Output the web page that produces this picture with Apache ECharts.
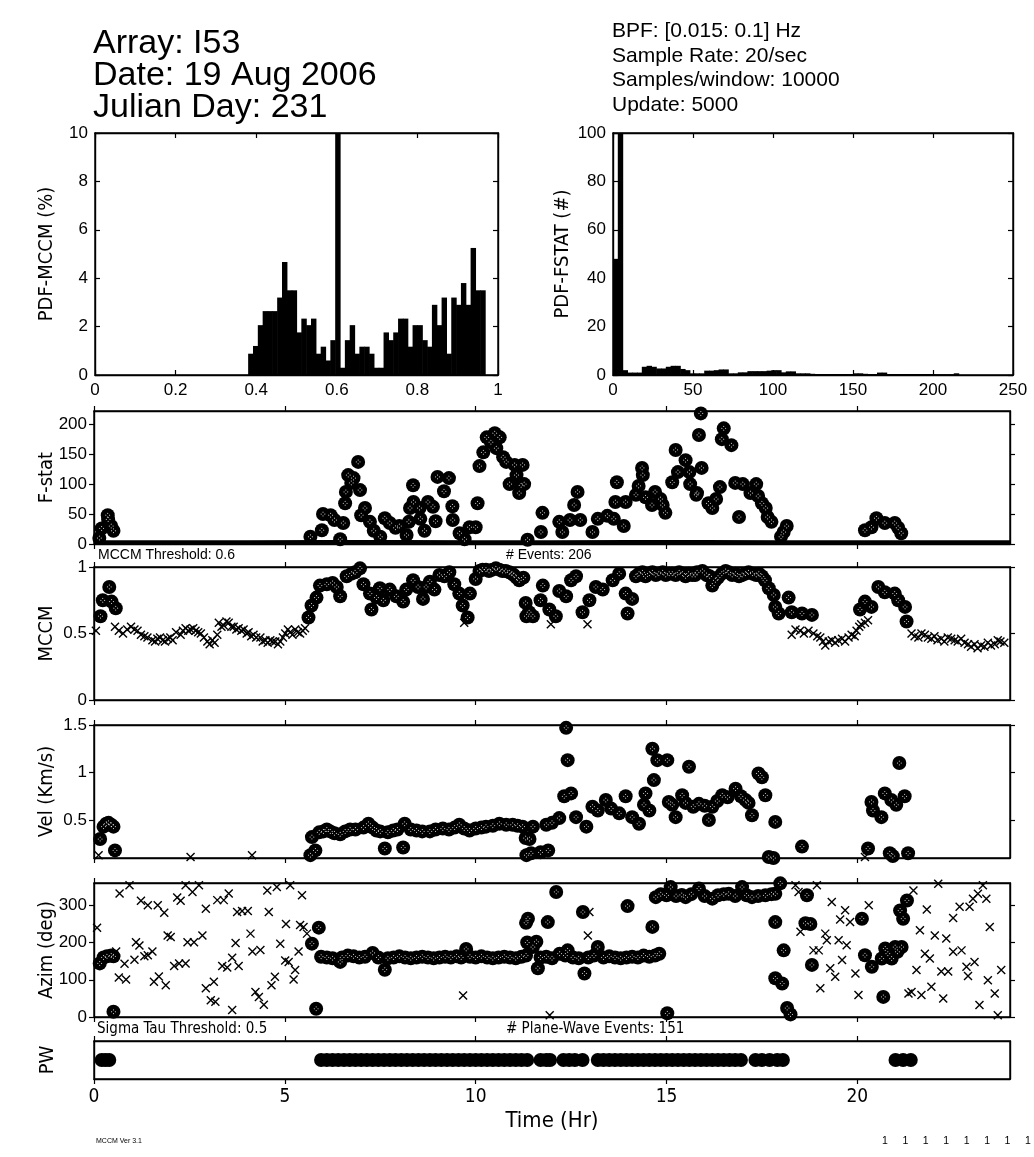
<!DOCTYPE html>
<html><head><meta charset="utf-8">
<script src="https://cdn.jsdelivr.net/npm/echarts@6/dist/echarts.min.js"></script>
<style>html,body{margin:0;padding:0;background:#fff}#c{width:1034px;height:1157px}</style>
</head><body><div id="c"></div>
<script>
// ---------------- DATA ----------------
// PDF of MCCM: bins start at 0.38, width 0.012 (%)
const mccmBinStart = 0.38, mccmBinWidth = 0.012;
const mccmPdf = [0.88,1.2,2.06,2.64,2.64,2.64,3.2,4.67,3.5,3.5,1.76,2.33,2.06,2.33,0.88,1.17,0.6,1.44,10,0.3,
  1.44,2.06,0.88,1.17,1.17,0.88,0.3,0.3,1.76,1.44,1.76,2.33,2.33,1.17,2.06,2.06,1.44,1.17,2.9,2.06,
  3.2,0.88,3.2,2.9,3.8,2.9,5.25,3.5,3.5];
// PDF of F-stat: bins start at 0, width 3 (#)
const fstatBinStart = 0, fstatBinWidth = 3;
const fstatPdf = [48,100,2,1,1,1,3.4,3.8,3.4,2.7,2.7,3.4,3.8,3.8,2.5,2,0.7,0.7,0.7,1.8,1.8,2,2.3,2.3,0.7,0.7,
  1.1,1.1,1.6,1.6,1.6,1.6,1.8,2,2,1.1,1.5,1.5,0.7,0.7,0.7,0.5,0.4,0.4,0.4,0.4,0.4,0.4,0.4,0.4,0.7,0.7,0.5,
  0.4,0.4,1,1,0.4,0.4,0.4,0.4,0.4,0.4,0.4,0.4,0.4,0.4,0.3,0.3,0.3,0.3,0.7];

// F-stat: low-value baseline (all windows) and detections [time hr, F]
const fstatBaseline = [[0,3],[2,3],[4,3],[6,3.5],[8,3.5],[10,3],[12,3],[14,3.5],[16,3.5],[18,3],[20,3],[22,3],[24,3]];
const fstatEvents = [[0.14,10],[0.2,26],[0.36,48],[0.37,41],[0.51,22],[0.45,30],
 [5.67,12],[5.97,23],[6.0,50],[6.2,48],[6.3,40],[6.53,35],[6.45,8],[6.58,68],[6.6,87],[6.66,115],[6.74,102],[6.97,90],[6.92,137],[6.8,110],
 [7.1,60],[7.0,48],[7.23,37],[7.33,22],[7.5,12],[7.62,43],[7.75,35],[7.9,27],[8.0,30],[8.19,15],[8.25,37],[8.36,98],[8.28,60],[8.37,70],
 [8.53,60],[8.55,42],[8.66,22],[8.75,70],[8.88,62],[8.95,38],[9.0,112],[9.17,88],[9.3,110],[9.39,63],[9.4,40],[9.58,18],[9.71,8],[9.84,28],
 [10.0,28],[10.05,68],[10.1,130],[10.2,153],[10.29,178],[10.5,185],[10.4,170],[10.54,160],[10.63,178],[10.72,145],[10.8,137],[10.89,100],
 [11.02,132],[11.07,115],[11.19,98],[11.14,85],[11.23,132],[11.27,100],[11.36,7],[11.71,20],[11.75,52],[12.19,37],[12.27,20],[12.47,40],
 [12.58,65],[12.67,87],[12.74,40],[13.06,20],[13.2,42],[13.45,47],[13.62,42],[13.88,30],[13.7,103],[13.66,70],[13.93,70],[14.2,82],
 [14.36,127],[14.38,115],[14.27,97],[14.45,78],[14.62,65],[14.7,87],[14.9,65],[14.97,52],[14.84,75],[15.15,103],[15.3,120],[15.24,157],
 [15.5,140],[15.6,120],[15.62,100],[15.8,85],[15.85,182],[15.9,218],[15.92,127],[15.78,82],[16.1,68],[16.2,60],[16.3,75],[16.4,95],
 [16.5,193],[16.45,175],[16.7,165],[16.8,102],[16.9,45],[17.0,100],[17.2,85],[17.35,100],[17.4,80],[17.5,68],[17.6,60],[17.65,45],
 [17.75,37],[18.07,20],[18.0,12],[18.15,30],[20.2,23],[20.37,28],[20.5,43],[20.72,35],[20.98,35],[21.15,18],[21.07,27]];

// MCCM: below-threshold windows (x) and detections (circles)
const mccmOther = [[0.05,0.52],[0.55,0.55],[0.65,0.52],[0.76,0.5],[0.87,0.53],[0.97,0.55],[1.06,0.53],[1.14,0.52],[1.23,0.49],[1.32,0.48],
 [1.4,0.47],[1.53,0.45],[1.6,0.44],[1.66,0.46],[1.73,0.47],[1.8,0.45],[1.86,0.44],[1.93,0.46],[2.0,0.47],[2.06,0.45],[2.15,0.51],[2.27,0.49],
 [2.33,0.52],[2.4,0.54],[2.47,0.52],[2.53,0.53],[2.6,0.54],[2.66,0.52],[2.73,0.51],[2.8,0.5],[2.88,0.47],[2.97,0.44],[3.03,0.42],[3.1,0.45],
 [3.16,0.43],[3.23,0.49],[3.27,0.58],[3.34,0.55],[3.4,0.56],[3.47,0.59],[3.53,0.58],[3.6,0.55],[3.66,0.55],[3.73,0.53],[3.79,0.54],[3.86,0.52],
 [3.92,0.53],[4.0,0.5],[4.05,0.51],[4.12,0.48],[4.18,0.49],[4.25,0.47],[4.36,0.47],[4.42,0.44],[4.49,0.45],[4.55,0.43],[4.62,0.45],[4.68,0.44],
 [4.75,0.44],[4.82,0.42],[4.88,0.44],[4.95,0.47],[5.01,0.5],[5.08,0.53],[5.14,0.51],[5.2,0.49],[5.27,0.53],[5.34,0.51],[5.4,0.5],[5.47,0.52],[5.53,0.54],
 [9.7,0.58],[11.97,0.57],[12.93,0.57],
 [18.28,0.49],[18.38,0.53],[18.5,0.52],[18.6,0.5],[18.72,0.52],[18.85,0.5],[18.95,0.48],[19.03,0.47],[19.1,0.44],[19.16,0.41],[19.25,0.44],
 [19.33,0.45],[19.42,0.43],[19.5,0.45],[19.6,0.46],[19.68,0.44],[19.77,0.47],[19.85,0.49],[19.93,0.48],[19.98,0.52],[20.05,0.55],[20.1,0.57],
 [20.2,0.58],[20.28,0.6],
 [21.42,0.5],[21.5,0.48],[21.6,0.47],[21.68,0.5],[21.77,0.49],[21.85,0.47],[21.94,0.46],[22.02,0.48],[22.1,0.45],[22.2,0.46],[22.28,0.44],
 [22.37,0.47],[22.46,0.46],[22.55,0.45],[22.63,0.44],[22.72,0.46],[22.81,0.43],[22.9,0.42],[22.98,0.4],[23.07,0.42],[23.15,0.39],[23.24,0.41],
 [23.33,0.4],[23.42,0.43],[23.5,0.41],[23.6,0.42],[23.68,0.45],[23.75,0.44],[23.85,0.43]];
const mccmEvents = [[0.17,0.63],[0.23,0.75],[0.4,0.85],[0.46,0.74],[0.57,0.69],
 [5.62,0.62],[5.7,0.71],[5.83,0.77],[5.92,0.86],[6.1,0.87],[6.25,0.88],[6.36,0.85],[6.45,0.78],[6.62,0.93],[6.75,0.95],[6.84,0.96],[6.97,0.99],[7.06,0.87],[7.23,0.8],
 [7.27,0.68],[7.4,0.77],[7.49,0.84],[7.58,0.75],[7.75,0.83],[7.92,0.78],[8.1,0.74],[8.18,0.83],[8.36,0.9],[8.49,0.85],[8.62,0.76],[8.7,0.85],
 [8.8,0.89],[8.92,0.83],[9.05,0.94],[9.18,0.93],[9.31,0.96],[9.44,0.87],[9.57,0.8],[9.66,0.71],[9.79,0.62],[9.85,0.8],[10.0,0.91],[10.1,0.97],[10.18,0.98],
 [10.27,0.98],[10.35,0.97],[10.44,0.98],[10.53,0.99],[10.62,0.98],[10.7,0.97],[10.79,0.97],[10.88,0.96],[10.95,0.95],[11.0,0.94],[11.07,0.92],[11.14,0.9],[11.25,0.92],[11.31,0.73],[11.33,0.63],
 [11.4,0.66],[11.5,0.63],[11.7,0.75],[11.76,0.86],[11.93,0.68],[12.1,0.63],[12.19,0.82],[12.37,0.78],[12.5,0.9],[12.63,0.93],[12.8,0.66],
 [12.98,0.75],[13.15,0.85],[13.33,0.83],[13.59,0.9],[13.76,0.95],[13.93,0.8],[13.98,0.65],[14.1,0.76],[14.2,0.93],[14.28,0.95],[14.37,0.96],[14.45,0.93],
 [14.55,0.95],[14.63,0.96],[14.72,0.94],[14.8,0.95],[14.9,0.96],[14.98,0.94],[15.07,0.95],[15.15,0.95],[15.24,0.94],[15.33,0.96],[15.42,0.95],
 [15.5,0.93],[15.58,0.95],[15.67,0.94],[15.75,0.94],[15.8,0.96],[15.94,0.97],[16.05,0.94],[16.13,0.93],[16.2,0.86],[16.28,0.9],[16.35,0.92],
 [16.45,0.95],[16.55,0.97],[16.63,0.96],[16.72,0.94],[16.81,0.95],[16.9,0.93],[16.98,0.94],[17.07,0.95],[17.15,0.96],[17.25,0.95],[17.35,0.94],
 [17.42,0.95],[17.5,0.93],[17.58,0.9],[17.68,0.84],[17.81,0.79],[17.85,0.7],[17.94,0.65],
 [18.2,0.77],[18.28,0.66],[18.55,0.65],[18.81,0.64],
 [20.07,0.68],[20.2,0.74],[20.37,0.7],[20.55,0.85],[20.72,0.81],[20.98,0.8],[21.07,0.75],[21.25,0.7],[21.29,0.59]];

// Velocity (km/s)
const velOther = [[0.12,0.13],[2.53,0.11],[4.14,0.13],[20.2,0.11]];
const velEvents = [[0.16,0.3],[0.25,0.43],[0.32,0.46],[0.38,0.47],[0.45,0.45],[0.51,0.43],[0.55,0.18],
 [5.67,0.13],[5.8,0.18],[5.71,0.32],[5.9,0.37],[6.01,0.38],[6.1,0.4],[6.19,0.38],[6.3,0.36],[6.45,0.35],[6.58,0.38],[6.71,0.4],[6.85,0.4],
 [7.06,0.42],[7.19,0.46],[7.3,0.42],[7.4,0.39],[7.5,0.38],[7.62,0.2],[7.7,0.37],[7.84,0.39],[7.95,0.4],[8.1,0.21],[8.14,0.46],[8.3,0.4],
 [8.45,0.39],[8.6,0.38],[8.8,0.38],[8.95,0.4],[9.14,0.41],[9.3,0.4],[9.45,0.42],[9.57,0.45],[9.7,0.41],[9.84,0.39],[10.0,0.41],[10.15,0.42],
 [10.27,0.43],[10.45,0.44],[10.62,0.46],[10.8,0.45],[10.97,0.45],[11.1,0.44],[11.23,0.43],[11.31,0.31],[11.33,0.13],
 [11.41,0.3],[11.45,0.15],[11.5,0.43],[11.7,0.16],[11.85,0.45],[11.9,0.18],[12.0,0.47],[12.19,0.52],[12.32,0.75],[12.37,1.47],[12.41,1.13],
 [12.5,0.78],[12.63,0.53],[12.9,0.43],[13.06,0.64],[13.2,0.6],[13.41,0.71],[13.55,0.62],[13.76,0.57],[13.93,0.75],[14.1,0.53],[14.28,0.46],
 [14.41,0.66],[14.45,0.78],[14.55,0.6],[14.63,1.25],[14.67,0.92],[14.76,1.13],[15.02,1.13],[15.06,0.69],[15.15,0.66],[15.24,0.53],[15.41,0.76],
 [15.5,0.68],[15.59,1.06],[15.7,0.64],[15.85,0.67],[16.0,0.65],[16.11,0.5],[16.2,0.64],[16.33,0.7],[16.46,0.76],[16.6,0.74],[16.81,0.83],
 [16.95,0.75],[17.07,0.71],[17.15,0.68],[17.24,0.55],[17.41,0.99],[17.5,0.95],[17.59,0.76],[17.85,0.48],[17.68,0.11],[17.8,0.1],[18.55,0.22],
 [20.28,0.2],[20.37,0.69],[20.41,0.6],[20.63,0.53],[20.72,0.78],[20.89,0.71],[21.02,0.66],[21.1,1.1],[21.24,0.75],[20.85,0.15],[20.93,0.12],[21.33,0.15]];

// Azimuth (deg)
const azimOther = [[0.08,240],[0.67,332],[0.93,354],[0.65,106],[0.84,101],[0.8,143],[0.58,176],[1.1,201],[1.19,192],[1.06,154],[1.23,312],
 [1.41,300],[1.32,163],[1.41,166],[1.53,176],[1.67,300],[1.84,280],[1.57,95],[1.7,109],[1.88,85],[1.93,219],[2.01,215],[2.1,137],[2.18,321],
 [2.27,312],[2.23,144],[2.4,144],[2.45,201],[2.62,201],[2.58,336],[2.4,354],[2.75,354],[2.84,219],[2.93,291],[2.93,77],[3.14,95],[3.06,45],
 [3.18,41],[3.23,314],[3.4,314],[3.53,332],[3.36,137],[3.49,133],[3.62,159],[3.71,199],[3.79,137],[3.62,19],[3.75,282],[3.88,285],[4.03,285],
 [4.1,224],[4.15,176],[4.36,180],[4.23,67],[4.32,54],[4.45,33],[4.54,340],[4.58,282],[4.65,85],[4.74,108],[4.79,349],[4.88,197],[5.01,152],
 [5.1,148],[5.14,354],[5.03,250],[5.23,101],[5.27,126],[5.36,176],[5.45,327],[5.4,247],[5.49,242],[5.58,224],[9.67,58],
 [11.94,5],[12.94,219],[12.98,282],[18.38,354],[18.46,336],[18.94,354],[18.51,229],[18.85,179],[18.99,179],[19.16,224],[19.2,206],[19.51,206],
 [19.72,193],[19.33,309],[19.68,287],[19.55,262],[19.81,255],[20.3,300],[19.29,131],[19.42,108],[19.6,153],[19.95,117],[19.03,77],[20.03,59],
 [21.47,340],[21.82,289],[22.12,358],[21.64,233],[22.03,219],[22.33,211],[21.77,170],[21.9,157],[21.55,126],[22.2,122],[22.38,122],[22.51,175],
 [22.73,179],[22.86,135],[22.9,110],[23.07,148],[22.51,266],[22.68,296],[22.94,296],[23.03,318],[23.16,331],[23.29,354],[23.38,318],[23.47,242],
 [21.34,63],[21.42,67],[21.68,59],[21.94,81],[22.25,50],[23.42,99],[23.6,63],[23.2,32],[23.68,5],[23.77,126]];
const azimEvents = [[0.15,144],[0.25,160],[0.34,163],[0.45,165],[0.51,163],[0.51,14],
 [5.71,197],[5.89,240],[5.82,22],
 [5.95,162],[6.1,160],[6.25,158],[6.45,148],[6.5,160],[6.65,165],[6.8,163],[6.95,160],[7.1,162],[7.3,172],[7.45,160],[7.62,127],[7.7,158],
 [7.85,160],[8.0,163],[8.15,160],[8.3,158],[8.45,160],[8.6,162],[8.75,160],[8.9,158],[9.05,160],[9.2,162],[9.35,160],[9.5,163],[9.62,160],
 [9.75,183],[9.85,162],[10.0,160],[10.15,163],[10.3,160],[10.45,158],[10.6,160],[10.75,162],[10.9,160],[11.05,158],[11.2,162],[11.32,165],
 [11.35,200],[11.32,253],
 [11.37,264],[11.5,188],[11.59,202],[11.63,131],[11.89,255],[12.11,336],[11.7,160],[11.85,162],[12.0,158],[12.2,170],[12.35,165],[12.41,179],
 [12.55,160],[12.7,158],[12.81,282],[12.85,117],[12.95,160],[13.1,165],[13.2,188],[13.35,160],[13.5,163],[13.65,160],[13.8,158],[13.95,160],
 [13.98,298],[14.1,162],[14.25,160],[14.4,165],[14.55,162],[14.63,242],[14.7,165],[14.81,170],
 [15.02,10],
 [14.72,322],[14.85,330],[15.0,327],[15.11,349],[15.25,325],[15.4,328],[15.5,322],[15.65,330],[15.85,345],[16.0,325],[16.2,318],[16.35,327],
 [16.5,330],[16.63,331],[16.8,325],[16.98,349],[17.1,327],[17.24,322],[17.4,325],[17.59,327],[17.75,330],[17.85,331],[17.98,359],
 [18.68,327],[17.85,255],[18.64,252],[18.77,250],[18.07,179],[18.81,140],[17.85,104],[18.03,90],[18.16,24],[18.25,7],
 [20.12,264],[20.2,166],[20.38,135],[20.64,157],[20.73,184],[20.99,188],[21.16,188],[20.9,157],[20.68,54],[21.12,286],[21.2,264],[21.3,313],
 [20.8,170],[21.05,175]];

// Plane-wave detections (time hr)
const pwTimes = [0.2,0.3,0.4,
 5.95,6.1,6.25,6.4,6.55,6.7,6.85,7.0,7.15,7.3,7.45,7.6,7.75,7.9,8.05,8.2,8.35,8.5,8.65,8.8,8.95,9.1,9.25,9.4,9.55,9.7,9.85,10.0,
 10.15,10.3,10.45,10.6,10.75,10.9,11.05,11.2,11.35,11.7,11.85,11.95,12.3,12.45,12.6,12.8,
 13.2,13.35,13.5,13.65,13.8,13.95,14.1,14.25,14.4,14.55,14.7,14.85,15.0,15.15,15.3,15.45,15.6,15.75,15.9,16.05,16.2,16.35,16.5,16.65,16.8,16.95,
 17.33,17.5,17.7,17.9,18.05,21.0,21.2,21.4];

const timeTicks = [0,5,10,15,20];

// ---------------- CHART ----------------
const FONT = '"Liberation Sans", Arial, Helvetica, sans-serif';
const NARROW = '"Liberation Sans Narrow", "DejaVu Sans Condensed", "Liberation Sans", sans-serif';
const BLACK = '#000';

const grids = [
  {left:95, top:133, width:403, height:242},
  {left:613, top:133, width:400, height:242},
  {left:94, top:411, width:916, height:133},
  {left:94, top:567, width:916, height:133},
  {left:94, top:725, width:916, height:133},
  {left:94, top:883, width:916, height:134},
  {left:94, top:1041, width:916, height:38}
];

const xAxis = [], yAxis = [];
function addX(g, min, max, ticks, inside, labelOpt, nameOpt) {
  const base = {gridIndex:g, type:'value', min:min, max:max, splitLine:{show:false},
    axisLine:{show:true, onZero:false, lineStyle:{color:BLACK, width:1.4}},
    axisTick:{show:ticks.length>0, inside:inside, length:5, customValues:ticks, lineStyle:{color:BLACK, width:1.2}}};
  xAxis.push(Object.assign({}, base, {position:'bottom', nameMoveOverlap:false,
    axisLabel: labelOpt ? Object.assign({show:true, customValues:ticks, color:BLACK}, labelOpt) : {show:false}}, nameOpt||{}));
  xAxis.push(Object.assign({}, base, {position:'top', axisLabel:{show:false}}));
}
function addY(g, min, max, ticks, inside, labelOpt, nameOpt) {
  const base = {gridIndex:g, type:'value', min:min, max:max, splitLine:{show:false},
    axisLine:{show:true, onZero:false, lineStyle:{color:BLACK, width:1.4}},
    axisTick:{show:ticks.length>0, inside:inside, length:5, customValues:ticks, lineStyle:{color:BLACK, width:1.2}}};
  yAxis.push(Object.assign({}, base, {position:'left', nameMoveOverlap:false,
    axisLabel: labelOpt ? Object.assign({show:true, customValues:ticks, color:BLACK}, labelOpt) : {show:false}}, nameOpt||{}));
  yAxis.push(Object.assign({}, base, {position:'right', axisLabel:{show:false}}));
}
const tickLab = {fontFamily:FONT, fontSize:17, margin:7};
function yName(txt, gap) {
  return {name:txt, nameLocation:'middle', nameGap:gap, nameRotate:90,
    nameTextStyle:{color:BLACK, fontFamily:NARROW, fontSize:20}};
}
// grid 0: PDF MCCM
addX(0, 0, 1, [0,0.2,0.4,0.6,0.8,1], true, Object.assign({}, tickLab, {formatter:v=>String(v)}));
addY(0, 0, 10, [0,2,4,6,8,10], true, tickLab, yName('PDF-MCCM (%)', 38));
// grid 1: PDF FSTAT
addX(1, 0, 250, [0,50,100,150,200,250], true, tickLab);
addY(1, 0, 100, [0,20,40,60,80,100], true, tickLab, yName('PDF-FSTAT (#)', 40));
// grid 2..6: time panels
addX(2, 0, 24, timeTicks, false, null);
addY(2, 0, 222, [0,50,100,150,200], false, tickLab, yName('F-stat', 37));
addX(3, 0, 24, timeTicks, false, null);
addY(3, 0, 1, [0,0.5,1], false, tickLab, yName('MCCM', 37));
addX(4, 0, 24, timeTicks, false, null);
addY(4, 0.1, 1.5, [0.5,1,1.5], false, tickLab, yName('Vel (Km/s)', 37));
addX(5, 0, 24, timeTicks, false, null);
addY(5, 0, 360, [0,100,200,300], false, tickLab, yName('Azim (deg)', 37));
addX(6, 0, 24, timeTicks, false, {fontFamily:NARROW, fontSize:19, margin:9},
  {name:'Time (Hr)', nameLocation:'middle', nameGap:31, nameTextStyle:{color:BLACK, fontFamily:NARROW, fontSize:22}});
addY(6, 0, 2, [], false, null, yName('PW', 36));

function histSeries(g, start, width, vals) {
  return {type:'custom', xAxisIndex:2*g, yAxisIndex:2*g, clip:true,
    data: vals.map((h,i)=>[start+i*width, start+(i+1)*width, h]),
    renderItem: function(params, api){
      const p0 = api.coord([api.value(0), api.value(2)]);
      const p1 = api.coord([api.value(1), 0]);
      return {type:'rect', shape:{x:p0[0], y:p0[1], width:p1[0]-p0[0]+0.6, height:p1[1]-p0[1]},
        style:{fill:BLACK}};
    }};
}
const XSYM = 'path://M0,0L10,10M10,0L0,10';
const DOTS = 'path://M4,0L5,1L4,2L3,1ZM1,3L2,4L1,5L0,4ZM7,3L8,4L7,5L6,4ZM4,6L5,7L4,8L3,7Z';
function crossSeries(g, data) {
  return {type:'scatter', xAxisIndex:2*g, yAxisIndex:2*g, data:data, clip:false, z:2,
    symbol:XSYM, symbolSize:8, itemStyle:{color:'rgba(0,0,0,0)', borderColor:BLACK, borderWidth:1.4, opacity:1}};
}
function eventSeries(g, data) {
  return [
    {type:'scatter', xAxisIndex:2*g, yAxisIndex:2*g, data:data, clip:false, z:3,
      symbol:'circle', symbolSize:14, itemStyle:{color:BLACK, opacity:1}},
    {type:'scatter', xAxisIndex:2*g, yAxisIndex:2*g, data:data, clip:false, z:4, silent:true,
      symbol:DOTS, symbolSize:5, itemStyle:{color:'#fff', opacity:1}}
  ];
}

const series = [
  histSeries(0, mccmBinStart, mccmBinWidth, mccmPdf),
  histSeries(1, fstatBinStart, fstatBinWidth, fstatPdf),
  {type:'line', xAxisIndex:4, yAxisIndex:4, data:fstatBaseline, symbol:'none', z:2,
    lineStyle:{color:BLACK, width:4}},
  ...eventSeries(2, fstatEvents),
  crossSeries(3, mccmOther),
  ...eventSeries(3, mccmEvents),
  crossSeries(4, velOther),
  ...eventSeries(4, velEvents),
  crossSeries(5, azimOther),
  ...eventSeries(5, azimEvents),
  {type:'scatter', xAxisIndex:12, yAxisIndex:12, data:pwTimes.map(t=>[t,1]), clip:false, z:3,
    symbol:'circle', symbolSize:14, itemStyle:{color:BLACK, opacity:1}}
];

function txt(x, y, s, font) {
  return {type:'text', x:x, y:y, style:{text:s, font:font, fill:BLACK, textVerticalAlign:'middle'}};
}
const graphic = [
  txt(93, 44, 'Array: I53', '34px ' + FONT),
  txt(93, 76, 'Date: 19 Aug 2006', '34px ' + FONT),
  txt(93, 108, 'Julian Day: 231', '34px ' + FONT),
  txt(612, 31, 'BPF: [0.015: 0.1] Hz', '21px ' + FONT),
  txt(612, 56, 'Sample Rate: 20/sec', '21px ' + FONT),
  txt(612, 80, 'Samples/window: 10000', '21px ' + FONT),
  txt(612, 105, 'Update: 5000', '21px ' + FONT),
  txt(98, 555, 'MCCM Threshold: 0.6', '14px ' + FONT),
  txt(506, 555, '# Events: 206', '14px ' + FONT),
  txt(97, 1029, 'Sigma Tau Threshold: 0.5', '15px ' + NARROW),
  txt(506, 1029, '# Plane-Wave Events: 151', '15px ' + NARROW),
  txt(96, 1141, 'MCCM Ver 3.1', '7px ' + FONT),
  txt(882, 1141, '1     1     1     1     1     1     1     1', '10.5px ' + FONT)
];

const chart = echarts.init(document.getElementById('c'), null, {renderer:'canvas'});
chart.setOption({
  backgroundColor:'#fff', animation:false,
  grid: grids.map(g=>Object.assign({show:true, borderColor:BLACK, borderWidth:1.4, backgroundColor:'#fff'}, g)),
  xAxis: xAxis, yAxis: yAxis, series: series, graphic: graphic
});
</script>
</body></html>
